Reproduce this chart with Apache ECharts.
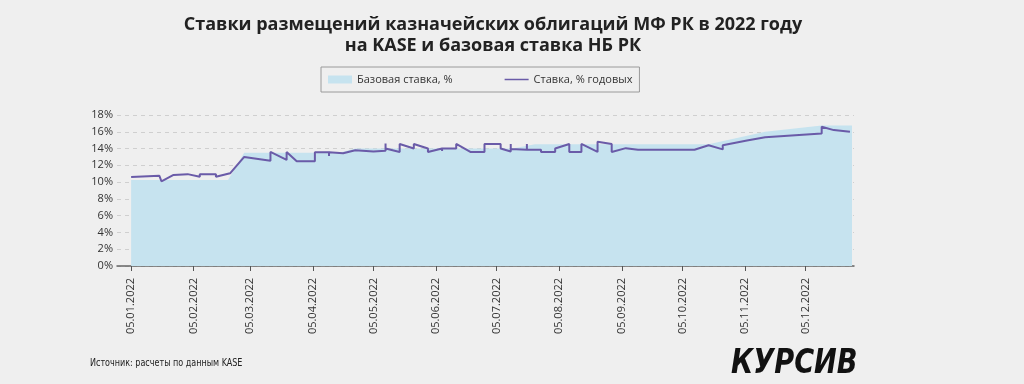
<!DOCTYPE html>
<html>
<head>
<meta charset="utf-8">
<script src="https://cdn.jsdelivr.net/npm/echarts@6/dist/echarts.min.js"></script>
<style>
  html, body { margin: 0; padding: 0; background: #efefef; }
  #chart { width: 1024px; height: 384px; }
</style>
</head>
<body>
<div id="chart"></div>
<script>
// Ставка размещений (аукционы КО МФ РК), несколько значений на одну дату дают вертикальные скачки
const rateDates = [
    '2022-01-05', '2022-01-19', '2022-01-20', '2022-01-26', '2022-02-02', '2022-02-08', '2022-02-08',
    '2022-02-16', '2022-02-16', '2022-02-23', '2022-03-02', '2022-03-15', '2022-03-15', '2022-03-23',
    '2022-03-23', '2022-03-28', '2022-04-06', '2022-04-06', '2022-04-13', '2022-04-13', '2022-04-13',
    '2022-04-20', '2022-04-26', '2022-05-05', '2022-05-11', '2022-05-11', '2022-05-11', '2022-05-18',
    '2022-05-18', '2022-05-25', '2022-05-25', '2022-06-01', '2022-06-01', '2022-06-08', '2022-06-08',
    '2022-06-08', '2022-06-15', '2022-06-15', '2022-06-22', '2022-06-29', '2022-06-29', '2022-07-07',
    '2022-07-07', '2022-07-12', '2022-07-12', '2022-07-12', '2022-07-20', '2022-07-20', '2022-07-20',
    '2022-07-27', '2022-07-27', '2022-08-03', '2022-08-03', '2022-08-10', '2022-08-10', '2022-08-16',
    '2022-08-16', '2022-08-24', '2022-08-24', '2022-08-31', '2022-08-31', '2022-09-07', '2022-09-13',
    '2022-09-27', '2022-09-27', '2022-10-04', '2022-10-11', '2022-10-18', '2022-10-25', '2022-10-25',
    '2022-11-06', '2022-11-15', '2022-12-13', '2022-12-13', '2022-12-19', '2022-12-27'
];
const rateValues = [
    10.6, 10.75, 10.1, 10.85, 10.95, 10.65, 10.95,
    10.95, 10.65, 11.05, 13.0, 12.55, 13.6, 12.65,
    13.6, 12.5, 12.5, 13.55, 13.55, 13.1, 13.55,
    13.45, 13.8, 13.65, 13.75, 14.6, 14.0, 13.6,
    14.55, 14.0, 14.55, 14.0, 13.6, 14.0, 13.7,
    14.0, 14.0, 14.55, 13.6, 13.6, 14.55, 14.55,
    14.0, 13.65, 14.55, 13.95, 13.85, 14.55, 13.85,
    13.85, 13.6, 13.6, 14.0, 14.55, 13.6, 13.6,
    14.55, 13.6, 14.8, 14.55, 13.6, 14.05, 13.85,
    13.85, 13.95, 13.85, 13.85, 14.4, 13.9, 14.4,
    14.95, 15.35, 15.8, 16.6, 16.2, 16.0
];

// Базовая ставка НБ РК
const baseDates = ['2022-01-05', '2022-02-22', '2022-03-02', '2022-04-18', '2022-04-26', '2022-07-13',
    '2022-07-24', '2022-10-18', '2022-11-15', '2022-12-13', '2022-12-28'];
const baseValues = [10.25, 10.25, 13.5, 13.5, 14.0, 14.0, 14.5, 14.5, 16.0, 16.75, 16.75];

const tickLabels = ['05.01.2022', '05.02.2022', '05.03.2022', '05.04.2022', '05.05.2022', '05.06.2022',
    '05.07.2022', '05.08.2022', '05.09.2022', '05.10.2022', '05.11.2022', '05.12.2022'];

function toTime(s) {
    const p = s.split('-');
    return new Date(+p[0], +p[1] - 1, +p[2]).getTime();
}
function labelToTime(s) {
    const p = s.split('.');
    return new Date(+p[2], +p[1] - 1, +p[0]).getTime();
}
function pad(n) {
    return (n < 10 ? '0' : '') + n;
}

const tickValues = tickLabels.map(labelToTime);
const rateData = rateDates.map((d, i) => [toTime(d), rateValues[i]]);
const baseData = baseDates.map((d, i) => [toTime(d), baseValues[i]]);

const chart = echarts.init(document.getElementById('chart'));

// тонкая линия для легенды (крайние точки задают рамку 24x8, сами не видны)
const lineIcon = 'path://M0,0L0.01,0L0,0.01Z M0,3.2H24V4.8H0Z M24,8L23.99,8L24,7.99Z';

// ось X — значения в миллисекундах, подписи только на 5-е число каждого месяца
const option = {
    backgroundColor: '#efefef',
    animation: false,
    title: {
        text: 'Ставки размещений казначейских облигаций МФ РК в 2022 году\nна KASE и базовая ставка НБ РК',
        left: 488,
        top: 9,
        textAlign: 'center',
        textStyle: {
            fontFamily: 'Open Sans',
            fontSize: 18,
            fontWeight: 'bold',
            color: '#222',
            lineHeight: 21
        }
    },
    legend: {
        left: 321,
        top: 67,
        padding: [7, 7, 7, 7],
        itemWidth: 24,
        itemHeight: 8,
        itemGap: 52,
        borderColor: '#9a9a9a',
        borderWidth: 1,
        textStyle: {fontFamily: 'Open Sans', fontSize: 11, color: '#333'},
        data: [
            {name: 'Базовая ставка, %', icon: 'rect'},
            {name: 'Ставка, % годовых', icon: lineIcon}
        ]
    },
    grid: {
        left: 117,
        right: 170,
        top: 115,
        bottom: 118
    },
    xAxis: {
        type: 'value',
        min: toTime('2021-12-29'),
        max: toTime('2022-12-29'),
        axisLine: {lineStyle: {color: '#666', width: 1.5}},
        axisTick: {
            show: true,
            customValues: tickValues,
            length: 5,
            lineStyle: {color: '#555'}
        },
        axisLabel: {
            customValues: tickValues,
            rotate: 90,
            margin: 12,
            fontFamily: 'Open Sans',
            fontSize: 11,
            color: '#333',
            formatter: function (v) {
                const d = new Date(v);
                return pad(d.getDate()) + '.' + pad(d.getMonth() + 1) + '.' + d.getFullYear();
            }
        },
        splitLine: {show: false}
    },
    yAxis: {
        type: 'value',
        min: 0,
        max: 18,
        interval: 2,
        axisLine: {show: false},
        axisTick: {show: false},
        axisLabel: {
            formatter: '{value}%',
            margin: 4,
            fontFamily: 'Open Sans',
            fontSize: 11,
            color: '#333'
        },
        splitLine: {lineStyle: {color: '#cfcfcf', type: [4, 4]}}
    },
    series: [
        {
            name: 'Базовая ставка, %',
            type: 'line',
            data: baseData,
            symbol: 'none',
            color: '#c6e3ef',
            lineStyle: {width: 0, opacity: 0},
            areaStyle: {color: '#c6e3ef', opacity: 1},
            z: 1
        },
        {
            name: 'Ставка, % годовых',
            type: 'line',
            data: rateData,
            symbol: 'none',
            color: '#6a5ba8',
            lineStyle: {width: 2, color: '#6a5ba8'},
            z: 3
        }
    ],
    graphic: [
        {
            type: 'text',
            x: 90,
            y: 358,
            scaleX: 0.73,
            style: {
                text: 'Источник: расчеты по данным KASE',
                font: '11px "DejaVu Sans", sans-serif',
                fill: '#222',
                verticalAlign: 'top'
            }
        },
        {
            type: 'text',
            x: 731,
            y: 347,
            scaleX: 0.8,
            style: {
                text: 'КУРСИВ',
                font: 'italic bold 34px "DejaVu Sans", sans-serif',
                fill: '#111',
                verticalAlign: 'top'
            }
        }
    ]
};

chart.setOption(option);
</script>
</body>
</html>
